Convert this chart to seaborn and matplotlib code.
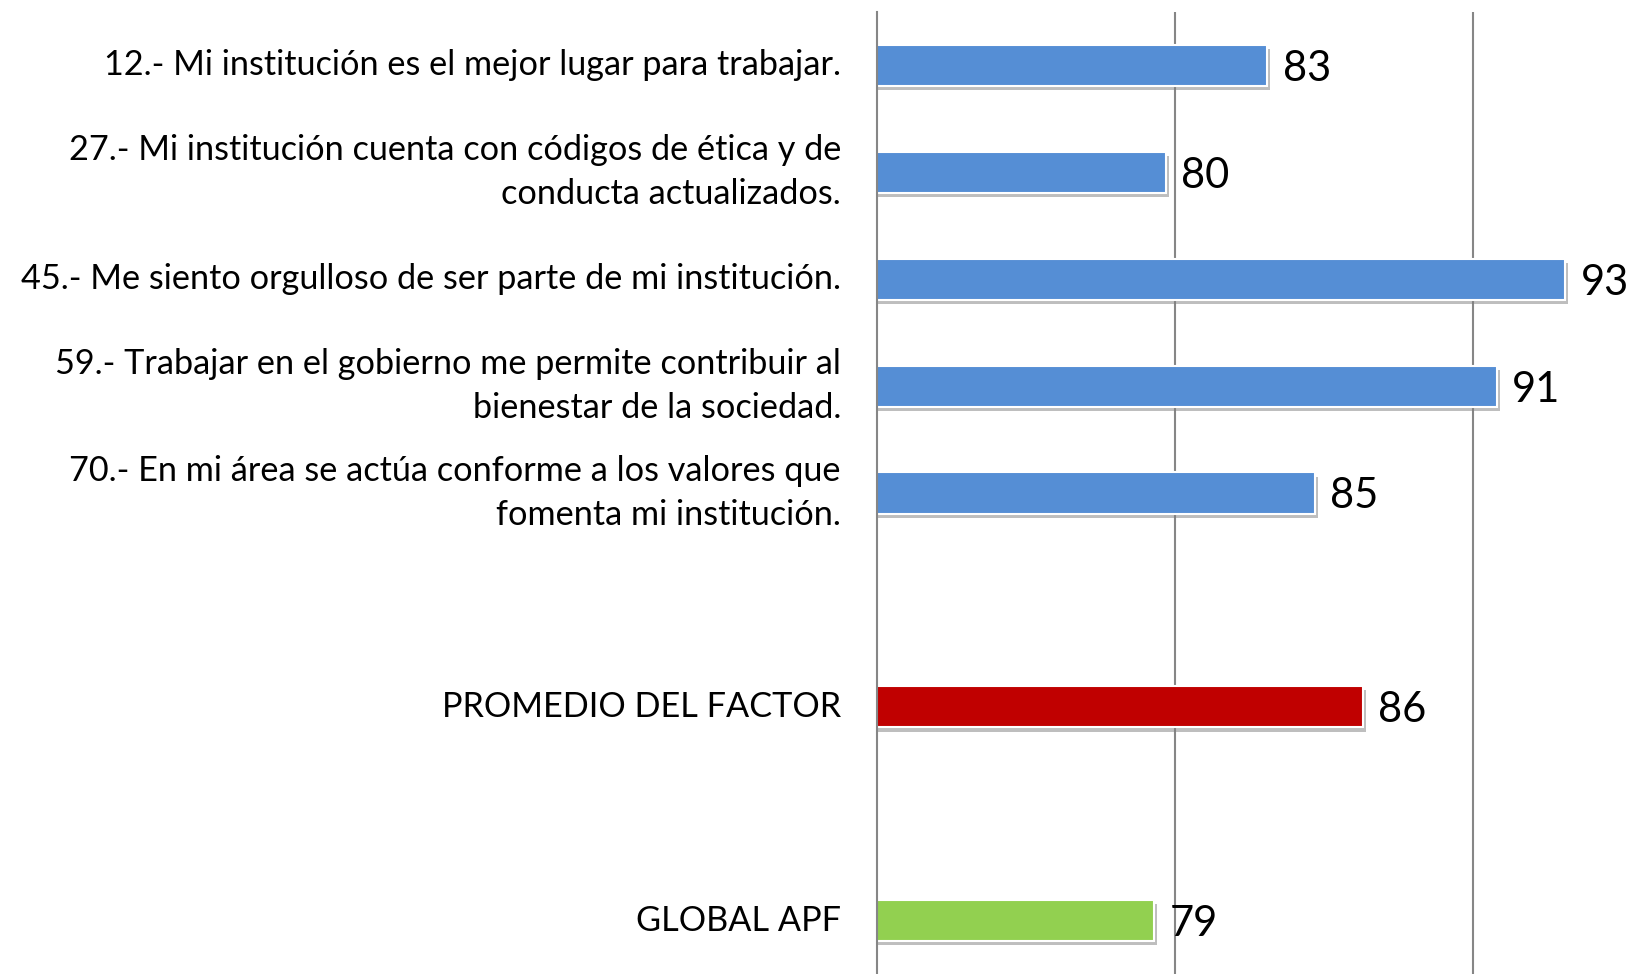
import numpy as np
import pandas as pd
import matplotlib
matplotlib.use("Agg")
import matplotlib.pyplot as plt
import matplotlib.patheffects as pe
import seaborn as sns

# =====================================================
# Data
# =====================================================
preguntas = [
    "12.- Mi institución es el mejor lugar para trabajar.",
    "27.- Mi institución cuenta con códigos de ética y de\nconducta actualizados.",
    "45.- Me siento orgulloso de ser parte de mi institución.",
    "59.- Trabajar en el gobierno me permite contribuir al\nbienestar de la sociedad.",
    "70.- En mi área se actúa conforme a los valores que\nfomenta mi institución.",
    "PROMEDIO DEL FACTOR",
    "GLOBAL APF",
]
valores = [83.1, 79.7, 93.1, 90.8, 84.7, 86.3, 79.3]
colores = ["#558ED5"] * 5 + ["#C00000", "#92D050"]

# category order with two empty spacer rows
orden = preguntas[:5] + [" "] + [preguntas[5]] + ["  "] + [preguntas[6]]

df = pd.DataFrame({"pregunta": preguntas, "valor": valores})
paleta = dict(zip(preguntas, colores))

# =====================================================
# Plot
# =====================================================
sns.set_style("white")
plt.rcParams["font.family"] = ["Lato", "DejaVu Sans"]

fig = plt.figure(figsize=(16.31, 9.74), dpi=100)
ax = fig.add_axes([877 / 1631, 0.0, 1 - 877 / 1631, 1 - 12 / 974])

sns.barplot(
    data=df, x="valor", y="pregunta", hue="pregunta", order=orden,
    palette=paleta, legend=False, width=0.385, saturation=1,
    edgecolor="white", linewidth=1.5, ax=ax,
)

for bar in ax.patches:
    bar.set_path_effects([
        pe.SimplePatchShadow(offset=(2, -3), shadow_rgbFace="#7f7f7f", alpha=0.5),
        pe.Normal(),
    ])

ax.set_xlim(70, 95.3)
ax.set_ylim(8.5, -0.5)

# gridlines
ax.set_xticks([80, 90])
ax.set_xticklabels([])
ax.tick_params(axis="x", length=0)
ax.grid(axis="x", color="#868686", linewidth=1.5)
ax.set_axisbelow(True)

# category labels at centers, tick marks at boundaries
ax.set_yticks(range(len(orden)))
ax.set_yticklabels(orden, fontsize=24.7, color="black")
for lbl in ax.get_yticklabels():
    lbl.set_linespacing(1.45)
    lbl.set_verticalalignment("center")
ax.tick_params(axis="y", which="major", length=0, pad=26)
ax.set_yticks(np.arange(-0.5, len(orden), 1), minor=True)
ax.tick_params(axis="y", which="minor", length=9, width=1.5, color="#868686")

ax.set_xlabel("")
ax.set_ylabel("")

for side in ["top", "right", "bottom"]:
    ax.spines[side].set_visible(False)
ax.spines["left"].set_color("#868686")
ax.spines["left"].set_linewidth(1.5)

for cont in ax.containers:
    labels = ax.bar_label(cont, fmt="{:.0f}", padding=11, fontsize=30, color="black")
    for t in labels:
        t.set_verticalalignment("center_baseline")

fig.savefig("out.png", dpi=100)
